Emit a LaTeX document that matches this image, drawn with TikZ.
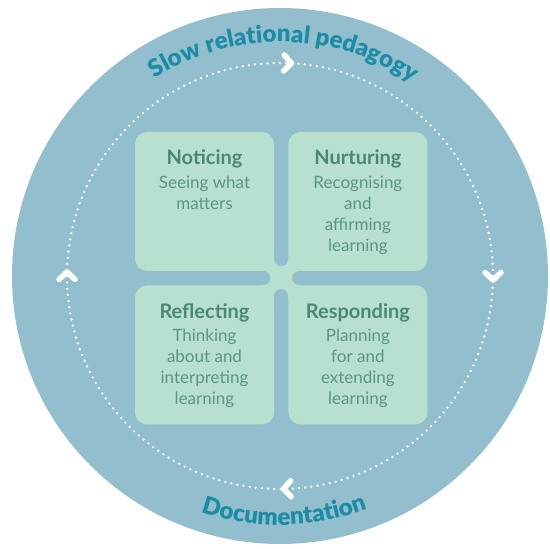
\documentclass[tikz,border=0pt]{standalone}
\usepackage{fontspec}
\setmainfont{Lato}
\newfontfamily\heavyfont{Lato Black}
\usetikzlibrary{positioning,calc,decorations.text}
\definecolor{ringblue}{RGB}{147,190,205}
\definecolor{boxgreen}{RGB}{184,224,206}
\definecolor{headgreen}{RGB}{76,136,112}
\definecolor{bodygreen}{RGB}{92,150,128}
\definecolor{tealtext}{RGB}{28,140,166}
\newcommand\arcfont{\fontsize{24}{24}\selectfont\heavyfont\color{tealtext}}
\tikzset{x=1pt, y=1pt,
  box/.style={fill=boxgreen, rounded corners=12pt, minimum width=139pt, minimum height=139pt, inner sep=0pt},
  head/.style={font=\fontsize{20}{21}\selectfont\bfseries, text=headgreen, inner sep=0pt, anchor=base},
  body/.style={font=\fontsize{17}{21}\selectfont, text=bodygreen, align=center, inner sep=0pt, anchor=north},
  gapline/.style={ringblue, line width=14pt, line cap=round},
  chev/.style={white, line width=5.5pt, line cap=round, line join=round},
  dots/.style={white, line width=2.6pt, line cap=round, dash pattern=on 0pt off 6.2pt}}

\begin{document}
\begin{tikzpicture}
\useasboundingbox (0,0) rectangle (550,549);
\coordinate (c) at (280,273);
\fill[ringblue] (c) circle[radius=268];
% cycle
\draw[dots] (c) circle[radius=213];
\foreach \a in {88,0,272,180}
  \draw[chev, shift={(c)}, rotate=\a] (205,3.5) -- (213,-4) -- (221,3.5);
\path[decorate, decoration={text along path, text align=center,
  text={|\arcfont|Slow relational pedagogy}}]
  (c) ++(159:234) arc[start angle=159, end angle=19, radius=234];
\path[decorate, decoration={text along path, text align=center,
  text={|\arcfont|Documentation}}]
  (c) ++(201:249) arc[start angle=201, end angle=341, radius=249];
% four boxes
\node[box] (notice) at (204.5,347.5) {};
\node[box, right=14pt of notice] (nurture) {};
\node[box, below=14pt of notice] (reflect) {};
\node[box, right=14pt of reflect] (respond) {};
\coordinate (mid) at ($(notice.south east)!0.5!(respond.north west)$);
\fill[boxgreen] ([shift={(-20,-20)}]mid) rectangle ([shift={(20,20)}]mid);
\draw[gapline] ([yshift=19]mid) -- ([yshift=30]mid);
\draw[gapline] ([yshift=-18]mid) -- ([yshift=-30]mid);
\draw[gapline] ([xshift=-18]mid) -- ([xshift=-30]mid);
\draw[gapline] ([xshift=18]mid) -- ([xshift=30]mid);
% texts
\node[head] (noticehead) at ([yshift=-33]notice.north) {Noticing};
\node[body] (noticetext) at ([yshift=-11]noticehead.base) {Seeing what\\matters};
\node[head] (nurturehead) at ([yshift=-33]nurture.north) {Nurturing};
\node[body] (nurturetext) at ([yshift=-11]nurturehead.base) {Recognising\\and\\affirming\\learning};
\node[head] (reflecthead) at ([yshift=-33]reflect.north) {Reflecting};
\node[body] (reflecttext) at ([yshift=-11]reflecthead.base) {Thinking\\about and\\interpreting\\learning};
\node[head] (respondhead) at ([yshift=-33]respond.north) {Responding};
\node[body] (respondtext) at ([yshift=-11]respondhead.base) {Planning\\for and\\extending\\learning};
\end{tikzpicture}
\end{document}
